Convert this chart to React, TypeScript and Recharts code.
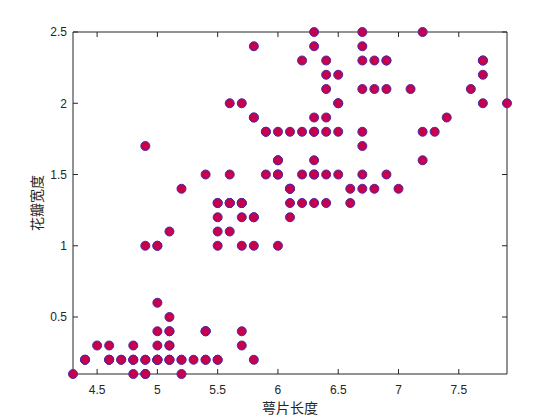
import React from 'react';
import { ScatterChart, Scatter, XAxis, YAxis, Label, ReferenceArea, ReferenceLine } from 'recharts';

// Iris: sepal length (x) vs petal width (y)
const sepalLength: number[] = [
  5.1, 4.9, 4.7, 4.6, 5.0, 5.4, 4.6, 5.0, 4.4, 4.9, 5.4, 4.8, 4.8, 4.3, 5.8, 5.7, 5.4, 5.1, 5.7, 5.1,
  5.4, 5.1, 4.6, 5.1, 4.8, 5.0, 5.0, 5.2, 5.2, 4.7, 4.8, 5.4, 5.2, 5.5, 4.9, 5.0, 5.5, 4.9, 4.4, 5.1,
  5.0, 4.5, 4.4, 5.0, 5.1, 4.8, 5.1, 4.6, 5.3, 5.0,
  7.0, 6.4, 6.9, 5.5, 6.5, 5.7, 6.3, 4.9, 6.6, 5.2, 5.0, 5.9, 6.0, 6.1, 5.6, 6.7, 5.6, 5.8, 6.2, 5.6,
  5.9, 6.1, 6.3, 6.1, 6.4, 6.6, 6.8, 6.7, 6.0, 5.7, 5.5, 5.5, 5.8, 6.0, 5.4, 6.0, 6.7, 6.3, 5.6, 5.5,
  5.5, 6.1, 5.8, 5.0, 5.6, 5.7, 5.7, 6.2, 5.1, 5.7,
  6.3, 5.8, 7.1, 6.3, 6.5, 7.6, 4.9, 7.3, 6.7, 7.2, 6.5, 6.4, 6.8, 5.7, 5.8, 6.4, 6.5, 7.7, 7.7, 6.0,
  6.9, 5.6, 7.7, 6.3, 6.7, 7.2, 6.2, 6.1, 6.4, 7.2, 7.4, 7.9, 6.4, 6.3, 6.1, 7.7, 6.3, 6.4, 6.0, 6.9,
  6.7, 6.9, 5.8, 6.8, 6.7, 6.7, 6.3, 6.5, 6.2, 5.9,
];

const petalWidth: number[] = [
  0.2, 0.2, 0.2, 0.2, 0.2, 0.4, 0.3, 0.2, 0.2, 0.1, 0.2, 0.2, 0.1, 0.1, 0.2, 0.4, 0.4, 0.3, 0.3, 0.3,
  0.2, 0.4, 0.2, 0.5, 0.2, 0.2, 0.4, 0.2, 0.2, 0.2, 0.2, 0.4, 0.1, 0.2, 0.2, 0.2, 0.2, 0.1, 0.2, 0.2,
  0.3, 0.3, 0.2, 0.6, 0.4, 0.3, 0.2, 0.2, 0.2, 0.2,
  1.4, 1.5, 1.5, 1.3, 1.5, 1.3, 1.6, 1.0, 1.3, 1.4, 1.0, 1.5, 1.0, 1.4, 1.3, 1.4, 1.5, 1.0, 1.5, 1.1,
  1.8, 1.3, 1.5, 1.2, 1.3, 1.4, 1.4, 1.7, 1.5, 1.0, 1.1, 1.0, 1.2, 1.6, 1.5, 1.6, 1.5, 1.3, 1.3, 1.3,
  1.2, 1.4, 1.2, 1.0, 1.3, 1.2, 1.3, 1.3, 1.1, 1.3,
  2.5, 1.9, 2.1, 1.8, 2.2, 2.1, 1.7, 1.8, 1.8, 2.5, 2.0, 1.9, 2.1, 2.0, 2.4, 2.3, 1.8, 2.2, 2.3, 1.5,
  2.3, 2.0, 2.0, 1.8, 2.1, 1.8, 1.8, 1.8, 2.1, 1.6, 1.9, 2.0, 2.2, 1.5, 1.4, 2.3, 2.4, 1.8, 1.8, 2.1,
  2.4, 2.3, 1.9, 2.3, 2.5, 2.3, 1.9, 2.0, 2.3, 1.8,
];

const xTicks: number[] = [4.5, 5, 5.5, 6, 6.5, 7, 7.5];
const yTicks: number[] = [0.5, 1, 1.5, 2, 2.5];
const xDomain: [number, number] = [4.3, 7.9];
const yDomain: [number, number] = [0.1, 2.5];
const xLabel = '萼片长度';
const yLabel = '花瓣宽度';

const data = sepalLength.map((x, i) => ({ x, y: petalWidth[i] }));

const AXIS = '#262626';
const TICK_LEN = 5;
const tickFont = { fontFamily: 'Liberation Sans, Arial, sans-serif', fontSize: 12, fill: AXIS };
const cjkFont = "'Noto Sans CJK SC', sans-serif";

const Marker = (props: any) => {
  const { cx, cy } = props;
  if (cx == null || cy == null) return null;
  return <circle cx={cx} cy={cy} r={4.5} fill="#c8004b" stroke="#4a2aa8" strokeWidth={1} />;
};

// Draws short inward tick marks at both ends of a reference line
const EndTicks = (props: any) => {
  const { x1, y1, x2, y2 } = props;
  if ([x1, y1, x2, y2].some((v) => v == null || Number.isNaN(v))) return null;
  if (Math.abs(x1 - x2) < 0.01) {
    const top = Math.min(y1, y2);
    const bottom = Math.max(y1, y2);
    return (
      <g>
        <line x1={x1} x2={x1} y1={bottom} y2={bottom - TICK_LEN} stroke={AXIS} strokeWidth={1} />
        <line x1={x1} x2={x1} y1={top} y2={top + TICK_LEN} stroke={AXIS} strokeWidth={1} />
      </g>
    );
  }
  const left = Math.min(x1, x2);
  const right = Math.max(x1, x2);
  return (
    <g>
      <line x1={left} x2={left + TICK_LEN} y1={y1} y2={y1} stroke={AXIS} strokeWidth={1} />
      <line x1={right} x2={right - TICK_LEN} y1={y1} y2={y1} stroke={AXIS} strokeWidth={1} />
    </g>
  );
};

export default function App() {
  return (
    <div style={{ position: 'absolute', left: 0, top: 0, width: 560, height: 420, background: '#fff' }}>
      <ScatterChart width={560} height={420} margin={{ top: 32, right: 53, bottom: 0, left: 0 }}>
        <XAxis
          xAxisId="b"
          orientation="bottom"
          dataKey="x"
          type="number"
          domain={xDomain}
          ticks={xTicks}
          height={46}
          tickSize={0}
          tickMargin={11}
          axisLine={false}
          tickLine={false}
          tick={tickFont}
        >
          <Label
            content={(p: any) => {
              const vb = p.viewBox || { x: 73, y: 374, width: 434, height: 46 };
              return (
                <text
                  x={vb.x + vb.width / 2}
                  y={vb.y + 39}
                  textAnchor="middle"
                  fontFamily={cjkFont}
                  fontSize={14}
                  fill={AXIS}
                >
                  {xLabel}
                </text>
              );
            }}
          />
        </XAxis>
        <YAxis
          yAxisId="l"
          orientation="left"
          dataKey="y"
          type="number"
          domain={yDomain}
          ticks={yTicks}
          width={73}
          tickSize={0}
          tickMargin={6}
          axisLine={false}
          tickLine={false}
          tick={tickFont}
        >
          <Label
            content={(p: any) => {
              const vb = p.viewBox || { x: 0, y: 32, width: 73, height: 342 };
              const cx = vb.x + 36;
              const cy = vb.y + vb.height / 2;
              return (
                <text
                  x={cx}
                  y={cy}
                  transform={`rotate(-90 ${cx} ${cy})`}
                  textAnchor="middle"
                  dominantBaseline="central"
                  fontFamily={cjkFont}
                  fontSize={14}
                  fill={AXIS}
                >
                  {yLabel}
                </text>
              );
            }}
          />
        </YAxis>
        <ReferenceArea
          xAxisId="b"
          yAxisId="l"
          x1={xDomain[0]}
          x2={xDomain[1]}
          y1={yDomain[0]}
          y2={yDomain[1]}
          fill="none"
          fillOpacity={0}
          stroke={AXIS}
          strokeWidth={1}
          strokeOpacity={1}
          ifOverflow="visible"
        />
        {xTicks.map((t) => (
          <ReferenceLine
            key={`xt${t}`}
            xAxisId="b"
            yAxisId="l"
            x={t}
            shape={EndTicks}
            ifOverflow="visible"
          />
        ))}
        {yTicks.map((t) => (
          <ReferenceLine
            key={`yt${t}`}
            xAxisId="b"
            yAxisId="l"
            y={t}
            shape={EndTicks}
            ifOverflow="visible"
          />
        ))}
        <Scatter
          data={data}
          xAxisId="b"
          yAxisId="l"
          shape={Marker}
          isAnimationActive={false}
        />
      </ScatterChart>
    </div>
  );
}
